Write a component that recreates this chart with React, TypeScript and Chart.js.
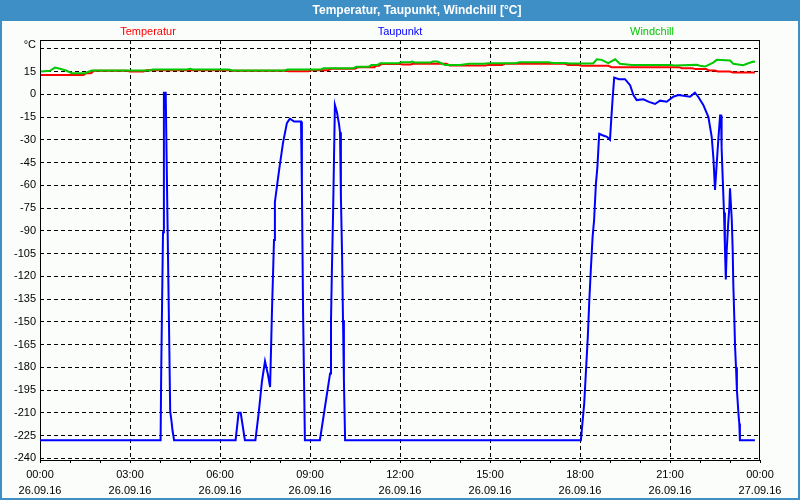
import React, { useEffect, useRef } from "react";
import { Chart, registerables } from "chart.js";

Chart.register(...registerables);

const CHART_TITLE = "Temperatur, Taupunkt, Windchill [°C]";
const SERIES_LABELS = ["Temperatur", "Taupunkt", "Windchill"];
const SERIES_COLORS = ["#ff0000", "#0000ff", "#00c800"];
const Y_UNIT_LABEL = "°C";
const Y_TICK_VALUES = [-240, -225, -210, -195, -180, -165, -150, -135, -120, -105, -90, -75, -60, -45, -30, -15, 0, 15, 30];
const X_TICK_TIMES = ["00:00", "03:00", "06:00", "09:00", "12:00", "15:00", "18:00", "21:00", "00:00"];
const X_TICK_DATES = ["26.09.16", "26.09.16", "26.09.16", "26.09.16", "26.09.16", "26.09.16", "26.09.16", "26.09.16", "27.09.16"];

// Temperatur (hours since 26.09.16 00:00, °C)
const tempHours = [0.03, 1.45, 1.55, 1.7, 1.8, 2.9, 3.0, 3.45, 3.55, 6.3, 6.4, 8.2, 8.3, 8.95, 9.05, 9.6, 9.7, 10.5, 10.6, 11.15, 11.22, 11.3, 11.38, 12.0, 12.1, 12.35, 12.45, 13.55, 13.65, 14.85, 14.95, 15.4, 15.5, 17.5, 17.6, 17.95, 18.05, 18.95, 19.05, 21.3, 21.4, 21.75, 21.85, 22.2, 22.3, 22.5, 22.6, 23.0, 23.1, 23.83];
const tempValues = [12.8, 12.8, 13.9, 13.9, 15.5, 15.5, 15.0, 15.0, 15.8, 15.8, 15.5, 15.5, 15.2, 15.2, 15.9, 15.9, 16.8, 16.8, 17.9, 17.9, 18.8, 18.8, 19.9, 19.9, 19.6, 19.6, 20.1, 20.1, 19.0, 19.0, 19.4, 19.4, 20.1, 20.1, 19.4, 19.4, 18.8, 18.8, 17.9, 17.9, 17.2, 17.2, 16.6, 16.6, 15.7, 15.7, 15.0, 15.0, 14.3, 14.3];

// Taupunkt
const dewHours = [0, 4.02, 4.04, 4.07, 4.1, 4.13, 4.19, 4.22, 4.25, 4.28, 4.31, 4.34, 4.38, 4.42, 4.47, 6.52, 6.62, 6.69, 6.83, 7.18, 7.29, 7.4, 7.5, 7.6, 7.67, 7.73, 7.8, 7.83, 7.97, 8.1, 8.23, 8.33, 8.47, 8.7, 8.73, 8.77, 8.83, 9.33, 9.5, 9.67, 9.7, 9.73, 9.77, 9.83, 9.9, 9.97, 10.0, 10.03, 10.07, 10.1, 10.13, 10.17, 18.03, 18.08, 18.14, 18.2, 18.26, 18.31, 18.36, 18.42, 18.47, 18.53, 18.58, 18.64, 18.75, 18.9, 19.0, 19.04, 19.09, 19.14, 19.3, 19.5, 19.67, 19.78, 19.89, 20.11, 20.3, 20.5, 20.67, 20.89, 21.11, 21.28, 21.67, 21.83, 21.94, 22.11, 22.28, 22.39, 22.45, 22.5, 22.56, 22.61, 22.67, 22.7, 22.72, 22.76, 22.8, 22.83, 22.86, 22.89, 22.94, 22.98, 23.0, 23.03, 23.06, 23.09, 23.11, 23.14, 23.17, 23.2, 23.23, 23.28, 23.31, 23.33, 23.83];
const dewValues = [-228, -228, -183, -137, -91, 1, 1, -41, -83, -125, -166, -209, -215, -222, -228, -228, -210, -210, -228, -228, -210, -189, -176, -185, -193, -145, -96, -71, -50, -32, -19, -16, -18, -18, -61, -145, -228, -228, -206, -184, -149, -116, -78, -7, -12, -20, -25, -67, -107, -149, -188, -228, -228, -217, -204, -182, -160, -136, -116, -94, -83, -59, -48, -26, -27, -28, -30, -17, -2, 11, 10, 10, 6, -0.5, -3.8, -3.3, -5, -6.4, -4.2, -4.9, -1.6, -0.5, -1.6, 1.1, -1.6, -7, -15, -28, -43, -63, -45, -30, -14, -14, -35, -57, -78, -100, -122, -103, -85, -74, -62, -62, -83, -103, -125, -145, -167, -180, -195, -210, -217, -228, -228];

// Windchill
const windHours = [0.03, 0.33, 0.5, 0.67, 0.89, 1.06, 1.5, 1.72, 3.67, 3.75, 4.9, 5.0, 5.1, 6.3, 6.4, 8.15, 8.25, 9.35, 9.45, 10.45, 10.55, 10.95, 11.05, 11.25, 11.35, 11.95, 12.05, 12.35, 12.4, 12.5, 13.0, 13.1, 13.25, 13.5, 14.0, 14.3, 14.8, 14.95, 15.85, 16.0, 16.95, 17.1, 17.5, 17.65, 18.44, 18.56, 18.72, 18.94, 19.17, 19.33, 19.72, 21.0, 21.17, 21.89, 22.0, 22.17, 22.44, 22.56, 23.0, 23.11, 23.44, 23.61, 23.78, 23.83];
const windValues = [15.0, 15.5, 17.6, 16.8, 15.5, 13.9, 13.9, 15.7, 15.7, 16.3, 16.3, 16.8, 16.3, 16.3, 15.7, 15.7, 16.3, 16.3, 17.2, 17.2, 18.1, 18.1, 19.4, 19.4, 20.5, 20.5, 21.2, 21.2, 21.6, 20.9, 20.9, 21.6, 21.6, 19.4, 19.4, 20.1, 20.1, 20.5, 20.5, 21.2, 21.2, 20.7, 20.7, 20.3, 20.3, 23.1, 22.7, 20.5, 23.1, 20.1, 19.4, 19.4, 19.0, 19.4, 18.8, 18.3, 20.9, 22.7, 22.3, 20.1, 19.2, 20.5, 21.6, 21.3];

const toPoints = (xs: number[], ys: number[]) => xs.map((x, i) => ({ x, y: ys[i] }));

const framePlugin = {
  id: "frame",
  beforeDraw(chart: any) {
    const { ctx, width, height } = chart;
    ctx.save();
    ctx.fillStyle = "#fbfdfb";
    ctx.fillRect(0, 0, width, height);
    ctx.fillStyle = "#3d8fc6";
    ctx.fillRect(0, 0, width, 21);
    ctx.fillRect(0, 0, 2, height);
    ctx.fillRect(width - 2, 0, 2, height);
    ctx.fillRect(0, height - 2, width, 2);
    ctx.textAlign = "center";
    ctx.textBaseline = "middle";
    ctx.font = "bold 12px 'Liberation Sans'";
    ctx.fillStyle = "#ffffff";
    ctx.fillText(CHART_TITLE, 417, 11);
    ctx.font = "11px 'Liberation Sans'";
    const centers = [148, 400, 652];
    SERIES_LABELS.forEach((label, i) => {
      ctx.fillStyle = SERIES_COLORS[i];
      ctx.fillText(label, centers[i], 32);
    });
    ctx.fillStyle = "#000000";
    ctx.textAlign = "right";
    ctx.fillText(Y_UNIT_LABEL, 36, 45);
    ctx.restore();
  },
  beforeDatasetsDraw(chart: any) {
    const { ctx, chartArea } = chart;
    ctx.save();
    ctx.strokeStyle = "#000000";
    ctx.lineWidth = 1;
    ctx.strokeRect(chartArea.left + 0.5, chartArea.top + 0.5, chartArea.right - chartArea.left - 1, chartArea.bottom - chartArea.top);
    ctx.restore();
  },
};

export default function App() {
  const canvasRef = useRef<HTMLCanvasElement | null>(null);

  useEffect(() => {
    document.body.style.margin = "0";
    const canvas = canvasRef.current;
    if (!canvas) return;
    const font = { family: "'Liberation Sans', Arial, sans-serif", size: 11 };
    const chart = new Chart(canvas, {
      type: "line",
      data: {
        datasets: [
          { label: SERIES_LABELS[1], data: toPoints(dewHours, dewValues), borderColor: SERIES_COLORS[1], borderWidth: 2, pointRadius: 0, tension: 0, fill: false },
          { label: SERIES_LABELS[2], data: toPoints(windHours, windValues), borderColor: SERIES_COLORS[2], borderWidth: 2, pointRadius: 0, tension: 0, fill: false },
          { label: SERIES_LABELS[0], data: toPoints(tempHours, tempValues), borderColor: SERIES_COLORS[0], borderWidth: 2, pointRadius: 0, tension: 0, fill: false },
        ],
      },
      options: {
        responsive: false,
        animation: false,
        devicePixelRatio: 1,
        layout: { padding: { left: 0, right: 40, top: 40, bottom: 0 } },
        plugins: { legend: { display: false }, title: { display: false }, tooltip: { enabled: false } },
        scales: {
          x: {
            type: "linear",
            min: 0,
            max: 24,
            afterBuildTicks: (scale: any) => {
              const t = [];
              for (let h = 0; h <= 24; h++) t.push({ value: h });
              scale.ticks = t;
            },
            afterFit: (scale: any) => { scale.height = 40; },
            ticks: {
              autoSkip: false,
              maxRotation: 0,
              minRotation: 0,
              padding: 4,
              color: "#000",
              font: { ...font, lineHeight: 16 / 11 },
              callback: (v: any) => {
                const h = Number(v);
                if (h % 3 !== 0) return "";
                return [X_TICK_TIMES[h / 3], X_TICK_DATES[h / 3]];
              },
            },
            grid: {
              drawTicks: true,
              tickLength: 3,
              tickColor: "#000",
              tickBorderDash: [],
              color: (c: any) => {
                const v = c.tick ? c.tick.value : 0;
                return v % 3 === 0 && v !== 0 && v !== 24 ? "#000" : "rgba(0,0,0,0)";
              },
            },
            border: { display: false, dash: [4, 3] },
          },
          y: {
            type: "linear",
            min: -241.1,
            max: 35.8,
            afterBuildTicks: (scale: any) => {
              scale.ticks = Y_TICK_VALUES.map((v) => ({ value: v }));
            },
            afterFit: (scale: any) => { scale.width = 40; },
            ticks: {
              autoSkip: false,
              padding: 4,
              color: "#000",
              font,
              callback: (v: any) => (Number(v) === 30 ? "" : String(v)),
            },
            grid: { drawTicks: false, color: "#000" },
            border: { display: false, dash: [4, 3] },
          },
        },
      },
      plugins: [framePlugin],
    } as any);
    return () => chart.destroy();
  }, []);

  return (
    <div style={{ width: 800, height: 500, margin: 0, padding: 0 }}>
      <canvas ref={canvasRef} width={800} height={500} style={{ display: "block", width: 800, height: 500 }} />
    </div>
  );
}
